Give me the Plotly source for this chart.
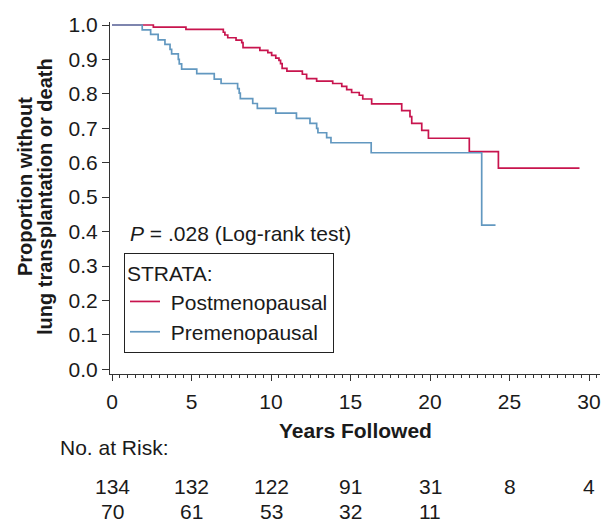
import plotly.graph_objects as go

# Kaplan-Meier step data
post_t = [0, 2.6, 4.65, 7.0, 7.1, 7.28, 7.8, 8.16, 8.24, 9.3, 9.8, 10.04, 10.3, 10.5, 10.6, 10.7,
          11.0, 11.97, 12.24, 12.87, 13.88, 14.45, 14.76, 15.07, 15.55, 15.77, 16.33, 18.22,
          18.74, 18.85, 19.48, 19.9, 22.47, 24.3, 29.4]
post_s = [1.0, 0.994, 0.987, 0.979, 0.971, 0.963, 0.956, 0.949, 0.934, 0.926, 0.920, 0.912, 0.904,
          0.897, 0.888, 0.874, 0.866, 0.857, 0.844, 0.837, 0.830, 0.822, 0.812, 0.804, 0.796,
          0.785, 0.771, 0.751, 0.734, 0.714, 0.694, 0.671, 0.632, 0.584, 0.584]

pre_t = [0, 1.9, 2.43, 2.9, 3.33, 3.65, 3.75, 4.17, 4.23, 4.38, 5.33, 6.43, 6.86, 7.9, 8.0, 8.07,
         8.85, 9.14, 10.3, 11.6, 12.45, 12.87, 12.95, 13.5, 13.77, 16.3, 23.25, 24.12]
pre_s = [1.0, 0.986, 0.973, 0.957, 0.944, 0.929, 0.916, 0.900, 0.887, 0.872, 0.859, 0.843, 0.830,
         0.815, 0.802, 0.786, 0.772, 0.758, 0.744, 0.729, 0.714, 0.700, 0.687, 0.673, 0.658,
         0.629, 0.419, 0.419]

risk_years = [0, 5, 10, 15, 20, 25, 30]
risk_post = [134, 132, 122, 91, 31, 8, 4]
risk_pre = [70, 61, 53, 32, 11]

RED = "#c8144e"
BLUE = "#6298c0"
FONT = "Liberation Sans, Arial, Helvetica, sans-serif"
FS = 21
TXT = "#1a1a1a"

fig = go.Figure()
fig.add_trace(go.Scatter(x=post_t, y=post_s, mode="lines", line=dict(color=RED, width=1.7, shape="hv"),
                         name="&nbsp;Postmenopausal"))
fig.add_trace(go.Scatter(x=pre_t, y=pre_s, mode="lines", line=dict(color=BLUE, width=1.7, shape="hv"),
                         name="&nbsp;Premenopausal"))

L, R, T, B = 110, 2, 22, 150
W, H = 602, 524
ph = H - T - B


def py(pix):
    return (H - B - pix) / ph


ann = []
# p-value text
ann.append(dict(x=1.0, y=0.393, xref="x", yref="y", xanchor="left", yanchor="middle", showarrow=False,
                text="<i>P</i> = .028 (Log-rank test)", font=dict(size=FS, color=TXT, family=FONT)))
# x-title
ann.append(dict(x=0.5, y=py(430), xref="paper", yref="paper", xanchor="center", yanchor="middle",
                showarrow=False, text="<b>Years Followed</b>", font=dict(size=FS, color=TXT, family=FONT)))
# y-title (two lines)
ann.append(dict(x=(25 - L) / 490, y=py(187), xref="paper", yref="paper", xanchor="center", yanchor="middle",
                showarrow=False, textangle=-90, text="<b>Proportion without</b>",
                font=dict(size=20, color=TXT, family=FONT)))
ann.append(dict(x=(45 - L) / 490, y=py(197), xref="paper", yref="paper", xanchor="center", yanchor="middle",
                showarrow=False, textangle=-90, text="<b>lung transplantation or death</b>",
                font=dict(size=20, color=TXT, family=FONT)))
# number at risk
ann.append(dict(x=(58 - L) / 490, y=py(447), xref="paper", yref="paper", xanchor="left", yanchor="middle",
                showarrow=False, text="No. at Risk:", font=dict(size=FS, color=TXT, family=FONT)))
for yr, n in zip(risk_years, risk_post):
    ann.append(dict(x=yr, y=py(486), xref="x", yref="paper", xanchor="center", yanchor="middle",
                    showarrow=False, text=str(n), font=dict(size=FS, color=TXT, family=FONT)))
for yr, n in zip(risk_years, risk_pre):
    ann.append(dict(x=yr, y=py(511), xref="x", yref="paper", xanchor="center", yanchor="middle",
                    showarrow=False, text=str(n), font=dict(size=FS, color=TXT, family=FONT)))

fig.update_layout(
    width=W, height=H,
    margin=dict(l=L, r=R, t=T, b=B),
    paper_bgcolor="white", plot_bgcolor="white",
    font=dict(family=FONT, size=FS, color=TXT),
    showlegend=True,
    legend=dict(x=(124 - L) / 490, y=py(253), xanchor="left", yanchor="top",
                bordercolor="#222", borderwidth=1, bgcolor="white",
                title=dict(text="STRATA:", font=dict(size=FS, color=TXT, family=FONT)),
                font=dict(size=FS, color=TXT, family=FONT), itemwidth=30, tracegroupgap=0),
    annotations=ann,
)
fig.update_xaxes(range=[-0.126, 30.69], showgrid=False, zeroline=False, showline=True, linecolor="#333",
                 linewidth=1.2, ticks="outside", ticklen=6, tickcolor="#333", tickwidth=1,
                 tickvals=risk_years, ticktext=[str(v) for v in risk_years], ticklabelstandoff=3,
                 tickfont=dict(size=FS, color=TXT, family=FONT),
                 minor=dict(dtick=0.5, tick0=0, ticks="outside", ticklen=3, tickcolor="#333", tickwidth=1))
fig.update_yaxes(range=[-0.0137, 1.0087], showgrid=False, zeroline=False, showline=True, linecolor="#333",
                 linewidth=1.2, ticks="outside", ticklen=7, tickcolor="#333", tickwidth=1,
                 tickvals=[i / 10 for i in range(11)], ticktext=["%.1f" % (i / 10) for i in range(11)],
                 tickfont=dict(size=FS, color=TXT, family=FONT))

fig.write_html("out.html")
